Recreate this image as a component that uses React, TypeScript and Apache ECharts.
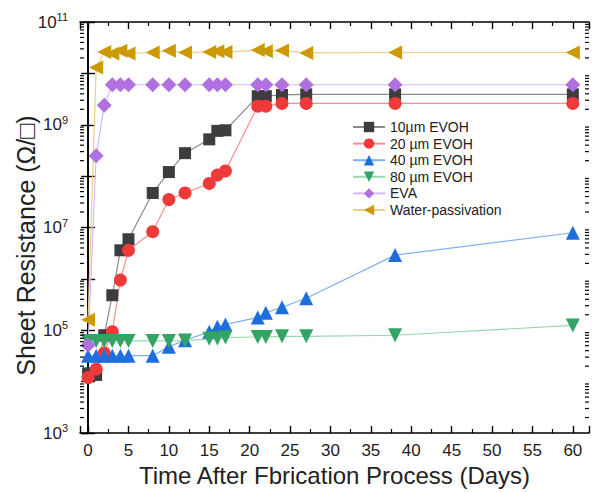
import React, { useEffect, useRef } from "react";
import * as echarts from "echarts";

const days = [0, 1, 2, 3, 4, 5, 8, 10, 12, 15, 16, 17, 21, 22, 24, 27, 38, 60];
const evoh10 = [1.45e4, 1.35e4, 8e4, 4.8e5, 3.6e6, 5.9e6, 4.7e7, 1.2e8, 2.8e8, 5.2e8, 7.6e8, 7.8e8, 3.6e9, 3.6e9, 3.8e9, 3.9e9, 3.9e9, 3.9e9];
const evoh20 = [1.2e4, 1.75e4, 3.6e4, 9.4e4, 9.5e5, 3.6e6, 8.3e6, 3.5e7, 4.7e7, 7.2e7, 1.05e8, 1.26e8, 2.3e9, 2.3e9, 2.6e9, 2.6e9, 2.6e9, 2.6e9];
const evoh40 = [3.2e4, 3.2e4, 3.2e4, 3.2e4, 3.2e4, 3.2e4, 3.2e4, 4.8e4, 6.4e4, 9.3e4, 1.17e5, 1.3e5, 1.78e5, 2.2e5, 2.8e5, 4.2e5, 2.9e6, 7.9e6];
const evoh80 = [6.2e4, 6.2e4, 6.2e4, 6.2e4, 6.2e4, 6.2e4, 6.2e4, 6.2e4, 6.3e4, 6.8e4, 6.9e4, 7.2e4, 7.4e4, 7.4e4, 7.6e4, 7.6e4, 8.0e4, 1.24e5];
const eva = [5.1e4, 2.5e8, 2.4e9, 6e9, 6e9, 6e9, 6e9, 6e9, 6e9, 6e9, 6e9, 6e9, 6e9, 6e9, 6e9, 6e9, 6e9, 6e9];
const water = [1.6e5, 1.3e10, 2.6e10, 2.45e10, 2.75e10, 2.45e10, 2.55e10, 2.75e10, 2.55e10, 2.6e10, 2.7e10, 2.6e10, 2.85e10, 2.7e10, 2.8e10, 2.5e10, 2.55e10, 2.55e10];

const seriesNames = ["10µm EVOH", "20 µm EVOH", "40 µm EVOH", "80 µm EVOH", "EVA", "Water-passivation"];

const X_MIN = -1;
const X_MAX = 62;
const Y_MIN = 1e3;
const Y_MAX = 1e11;

const yMinorTicks: number[] = [];
for (let e = 3; e < 11; e++) {
  for (let m = 2; m <= 9; m++) yMinorTicks.push(m * Math.pow(10, e));
}

const FONT = "'Liberation Sans', Arial, Helvetica, sans-serif";

export default function App() {
  const ref = useRef<HTMLDivElement>(null);
  useEffect(() => {
    if (!ref.current) return;
    const chart = echarts.init(ref.current, undefined, { renderer: "svg" });

    const mk = (name: string, vals: number[], symbol: string, size: any, color: string, lineColor: string, rotate = 0) => ({
      name,
      type: "line",
      data: days.map((d, i) => [d, vals[i]]),
      symbol,
      symbolSize: size,
      symbolRotate: rotate,
      showAllSymbol: true,
      itemStyle: { color, opacity: 1 },
      lineStyle: { color: lineColor, width: 1.2 },
      emphasis: { disabled: true },
      z: 3,
    });

    const axisLineStyle = { color: "#000", width: 1.6 };
    const tickStyle = { color: "#000", width: 1.4 };

    chart.setOption({
      animation: false,
      grid: { left: 80, right: 3, top: 22, bottom: 60, containLabel: false, outerBoundsMode: "none" },
      legend: {
        orient: "vertical",
        left: 347,
        top: 115,
        itemWidth: 32,
        itemHeight: 13,
        itemGap: 2.6,
        data: seriesNames,
        textStyle: { fontFamily: FONT, fontSize: 14, color: "#222" },
      },
      xAxis: [
        {
          type: "value",
          min: X_MIN,
          max: X_MAX,
          splitNumber: 12,
          position: "bottom",
          name: "Time After Fbrication Process (Days)",
          nameLocation: "middle",
          nameGap: 30,
          nameMoveOverlap: false,
          nameTextStyle: { fontFamily: FONT, fontSize: 24, color: "#222" },
          axisLine: { show: true, lineStyle: axisLineStyle },
          axisTick: { show: true, inside: true, length: 7, lineStyle: tickStyle },
          minorTick: { show: true, splitNumber: 2, length: 4, lineStyle: { color: "#000", width: 1.2 } },
          splitLine: { show: false },
          axisLabel: {
            fontFamily: FONT,
            fontSize: 17,
            color: "#222",
            margin: 9,
            formatter: (v: number) => (v % 5 === 0 && v >= 0 && v <= 60 ? String(v) : ""),
          },
        },
        {
          type: "value",
          min: X_MIN,
          max: X_MAX,
          splitNumber: 12,
          position: "top",
          axisLine: { show: true, lineStyle: axisLineStyle },
          axisTick: { show: true, inside: true, length: 7, lineStyle: tickStyle },
          minorTick: { show: true, splitNumber: 2, length: 4, lineStyle: { color: "#000", width: 1.2 } },
          splitLine: { show: false },
          axisLabel: { show: false },
        },
      ],
      yAxis: [
        {
          type: "log",
          logBase: 10,
          min: Y_MIN,
          max: Y_MAX,
          splitNumber: 8,
          position: "left",
          name: "Sheet Resistance (Ω/□)",
          nameLocation: "middle",
          nameGap: 42,
          nameMoveOverlap: false,
          nameTextStyle: { fontFamily: FONT, fontSize: 25, color: "#222", padding: [0, 36, 0, 0] },
          axisLine: { show: true, lineStyle: axisLineStyle },
          axisTick: { show: true, inside: true, length: 7, lineStyle: tickStyle },
          splitLine: { show: false },
          axisLabel: {
            margin: 12,
            formatter: (v: number) => {
              const e = Math.round(Math.log10(v));
              if (e % 2 === 0) return "";
              return `{b|10}{s|${e}}`;
            },
            rich: {
              b: { fontFamily: FONT, fontSize: 17, color: "#222" },
              s: { fontFamily: FONT, fontSize: 11, color: "#222", padding: [0, 0, 10, 0] },
            },
          },
        },
        {
          type: "log",
          logBase: 10,
          min: Y_MIN,
          max: Y_MAX,
          splitNumber: 8,
          position: "right",
          axisLine: { show: true, lineStyle: axisLineStyle },
          axisTick: { show: true, inside: true, length: 7, lineStyle: tickStyle },
          splitLine: { show: false },
          axisLabel: { show: false },
        },
      ],
      series: [
        {
          type: "custom",
          name: "ytick",
          silent: true,
          xAxisIndex: 0,
          yAxisIndex: 0,
          data: yMinorTicks.map((v) => [0, v]),
          encode: { x: 0, y: 1 },
          clip: false,
          z: 10,
          renderItem: (params: any, api: any) => {
            const v = api.value(1);
            const pL = api.coord([X_MIN, v]);
            const pR = api.coord([X_MAX, v]);
            return {
              type: "group",
              children: [
                { type: "line", shape: { x1: pL[0], y1: pL[1], x2: pL[0] + 4, y2: pL[1] }, style: { stroke: "#000", lineWidth: 1.2 } },
                { type: "line", shape: { x1: pR[0], y1: pR[1], x2: pR[0] - 4, y2: pR[1] }, style: { stroke: "#000", lineWidth: 1.2 } },
              ],
            };
          },
        },
        mk(seriesNames[0], evoh10, "rect", 12, "#3d3d3d", "#8a8a8a"),
        mk(seriesNames[1], evoh20, "circle", 13, "#f03a3a", "#f59090"),
        mk(seriesNames[2], evoh40, "triangle", 14, "#1e6fdc", "#80b0ee"),
        mk(seriesNames[3], evoh80, "triangle", 14, "#33a466", "#9ad7b0", 180),
        mk(seriesNames[4], eva, "diamond", 15, "#b070e0", "#d8b8f2"),
        mk(seriesNames[5], water, "triangle", 14, "#cc9900", "#ebcf85", 90),
      ],
    });
    return () => chart.dispose();
  }, []);
  return <div ref={ref} style={{ width: 592, height: 493, position: "absolute", left: 0, top: 0, background: "#fff" }} />;
}
